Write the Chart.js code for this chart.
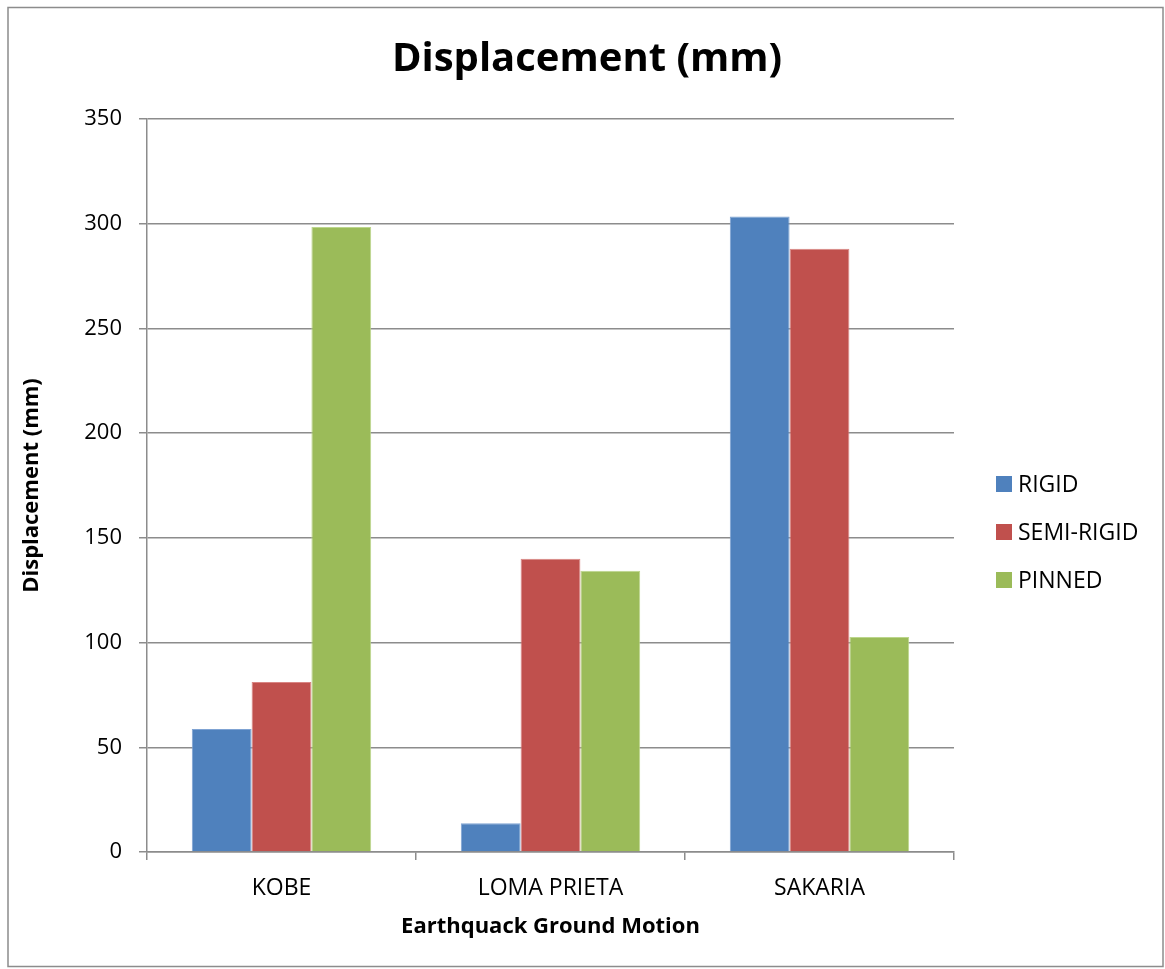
<!DOCTYPE html>
<html><head><meta charset="utf-8">
<script src="https://cdn.jsdelivr.net/npm/chart.js@4"></script>
<style>html,body{margin:0;padding:0;background:#fff}</style>
</head><body>
<canvas id="c" width="1165" height="969"></canvas>
<script>
const categories = ['KOBE', 'LOMA PRIETA', 'SAKARIA'];
const seriesNames = ['RIGID', 'SEMI-RIGID', 'PINNED'];
const rigid = [58.7, 13.7, 303.4];
const semiRigid = [81.2, 140.0, 288.0];
const pinned = [298.4, 134.3, 102.7];
const yMin = 0, yMax = 350, yStep = 50;
const chartTitle = 'Displacement (mm)';
const xTitle = 'Earthquack Ground Motion';
const yTitle = 'Displacement (mm)';

const colors = ['#4F81BD', '#C0504D', '#9BBB59'];
const borders = ['#7FA3D3', '#D98583', '#BCD68C'];
const FONT = "'Open Sans', 'Noto Sans', sans-serif";
const grey = '#8C8C8C';

const frameTitleLegend = {
  id: 'frameTitleLegend',
  afterDraw(chart) {
    const ctx = chart.ctx;
    ctx.save();
    ctx.strokeStyle = grey; ctx.lineWidth = 1.5;
    ctx.strokeRect(8, 7.5, 1155, 959);
    ctx.fillStyle = '#000';
    ctx.font = 'bold 40px ' + FONT;
    ctx.textAlign = 'center'; ctx.textBaseline = 'middle';
    ctx.fillText(chartTitle, 587, 60);
    ctx.font = '23px ' + FONT;
    ctx.textAlign = 'left';
    chart.data.datasets.forEach((ds, i) => {
      const cy = 484 + i * 48;
      ctx.fillStyle = ds.backgroundColor;
      ctx.fillRect(996, cy - 8, 16, 16);
      ctx.fillStyle = '#000';
      ctx.fillText(ds.label, 1018, cy + 1);
    });
    ctx.restore();
  }
};

new Chart(document.getElementById('c'), {
  type: 'bar',
  data: {
    labels: categories,
    datasets: [rigid, semiRigid, pinned].map((d, i) => ({
      label: seriesNames[i], data: d,
      backgroundColor: colors[i], borderColor: borders[i], borderWidth: 1,
      categoryPercentage: 0.667, barPercentage: 1.0
    }))
  },
  options: {
    responsive: false, animation: false,
    layout: { padding: { left: 0, right: 211, top: 119, bottom: 0 } },
    plugins: { legend: { display: false }, title: { display: false }, tooltip: { enabled: false } },
    scales: {
      x: {
        afterFit(s) { s.height = 117; },
        grid: { display: true, drawOnChartArea: false, drawTicks: true, tickLength: 8, color: grey, lineWidth: 1.5, offset: true },
        border: { display: true, color: grey, width: 1.5 },
        ticks: { color: '#000', font: { family: FONT, size: 23 }, padding: 15 },
        title: { display: true, text: xTitle, color: '#000', font: { family: FONT, size: 22, weight: 'bold' }, padding: { top: 0, bottom: 29 } }
      },
      y: {
        min: yMin, max: yMax,
        afterFit(s) { s.width = 147; },
        grid: { color: grey, lineWidth: 1.5, drawTicks: true, tickLength: 8 },
        border: { display: true, color: grey, width: 1.5 },
        ticks: { stepSize: yStep, color: '#000', font: { family: FONT, size: 22 }, padding: 17 },
        title: { display: true, text: yTitle, color: '#000', font: { family: FONT, size: 22, weight: 'bold' }, padding: { top: 19, bottom: 0 } }
      }
    }
  },
  plugins: [frameTitleLegend]
});
</script>
</body></html>
